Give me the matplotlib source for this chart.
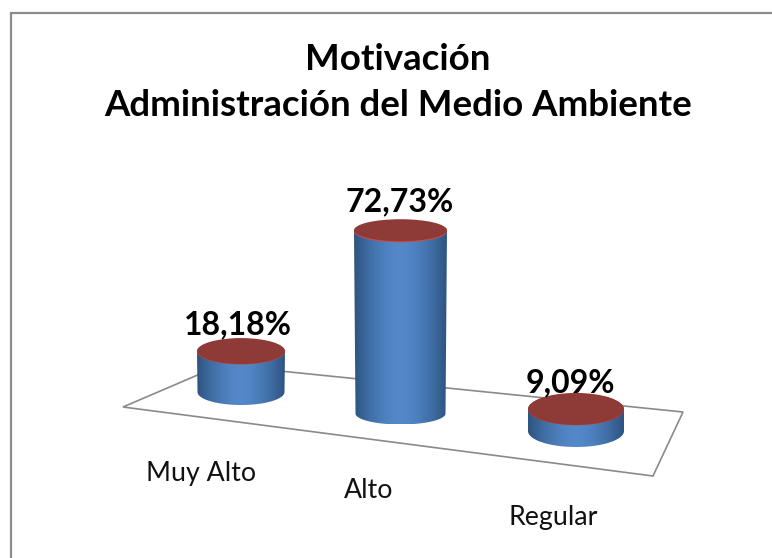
#!/usr/bin/env python3
"""Grafica de cilindros 3D: Motivacion, Administracion del Medio Ambiente."""

import matplotlib
matplotlib.use("Agg")
import matplotlib.pyplot as plt
from matplotlib.patches import Ellipse, PathPatch, Polygon, Rectangle
from matplotlib.path import Path
import numpy as np

plt.rcParams["font.family"] = ["Lato", "DejaVu Sans"]

# ── Datos ────────────────────────────────────────────────────────────────────
categories = ["Muy Alto", "Alto", "Regular"]
values = [18.18, 72.73, 9.09]
value_labels = ["18,18%", "72,73%", "9,09%"]
title_lines = "Motivación\nAdministración del Medio Ambiente"

# ── Geometria en pixeles de la imagen ────────────────────────────────────────
CENTERS = [241, 400.5, 576]
BASES = [392, 413.5, 431]
HALF_W = [44, 46.5, 48]
TAPER = [0.5, 1.5, 0]
RY = [13, 11, 16]
RIM_OFF = [0.5, 1.2, 0.4]
PX_PER_PCT = [2.25, 2.52, 2.42]
LABEL_POS = [(238, 324.5), (400, 201.5), (570, 382.5)]
CAT_POS = [(201, 473.5), (369, 491), (553, 517.5)]
FLOOR = [(123, 407), (221, 365), (683, 412), (653, 476)]

W, H = 772, 558
EDGE = "#2d5380"
MID = "#5388c9"
TOP = "#8e3b38"
RIM = "#c0504d"


def side_path(cx, hw, hw_base, ytop, ybase, ry):
    """Cuerpo del cilindro: lateral mas media elipse inferior."""
    t = np.linspace(np.pi, 0, 60)
    xs = cx + hw_base * np.cos(t)
    ys = ybase + ry * np.sin(t)
    verts = [(cx - hw, ytop)] + list(zip(xs, ys)) + [(cx + hw, ytop), (cx - hw, ytop)]
    return Path(verts)


def draw_cylinder(ax, cx, hw, taper, ybase, ry, rim, height):
    ytop = ybase - height
    patch = PathPatch(side_path(cx, hw, hw - taper, ytop, ybase, ry), fc="none", ec="none")
    ax.add_patch(patch)
    # Degradado horizontal oscuro-claro-oscuro
    c0 = np.array(matplotlib.colors.to_rgb(EDGE))
    c1 = np.array(matplotlib.colors.to_rgb(MID))
    u = np.abs(np.linspace(-1, 1, 200))[None, :, None]
    grad = c1 + (c0 - c1) * u ** 1.7
    img = ax.imshow(grad, extent=(cx - hw, cx + hw, ybase + ry, ytop),
                    aspect="auto", zorder=3, interpolation="bilinear")
    img.set_clip_path(patch)
    ax.add_patch(Ellipse((cx, ytop + rim), 2 * hw, 2 * ry, fc=RIM, ec="none", zorder=4))
    ax.add_patch(Ellipse((cx, ytop), 2 * hw, 2 * ry, fc=TOP, ec="none", zorder=5))


def main():
    fig = plt.figure(figsize=(W / 100, H / 100), dpi=100)
    ax = fig.add_axes([0, 0, 1, 1])
    ax.set_xlim(0, W)
    ax.set_ylim(H, 0)
    ax.axis("off")

    # Marco del grafico (sale por la derecha y por abajo)
    ax.add_patch(Rectangle((11, 13), W + 20, H + 20, fc="white", ec="#8c8c8c", lw=1.6, zorder=1))

    ax.add_patch(Polygon(FLOOR, closed=True, fc="white", ec="#8a8a8a", lw=1.2, zorder=2))

    for i, v in enumerate(values):
        draw_cylinder(ax, CENTERS[i], HALF_W[i], TAPER[i], BASES[i], RY[i], RIM_OFF[i],
                      v * PX_PER_PCT[i])
        ax.text(*LABEL_POS[i], value_labels[i], ha="center", va="center",
                fontsize=23, fontweight="bold", color="black", zorder=6)
        ax.text(*CAT_POS[i], categories[i], ha="center", va="center",
                fontsize=19.3, color="#111111", zorder=6)

    ax.text(398, 82.5, title_lines, ha="center", va="center", fontsize=26.4,
            fontweight="bold", color="black", linespacing=1.5, zorder=6)

    fig.savefig("out.png", dpi=100)


if __name__ == "__main__":
    main()
